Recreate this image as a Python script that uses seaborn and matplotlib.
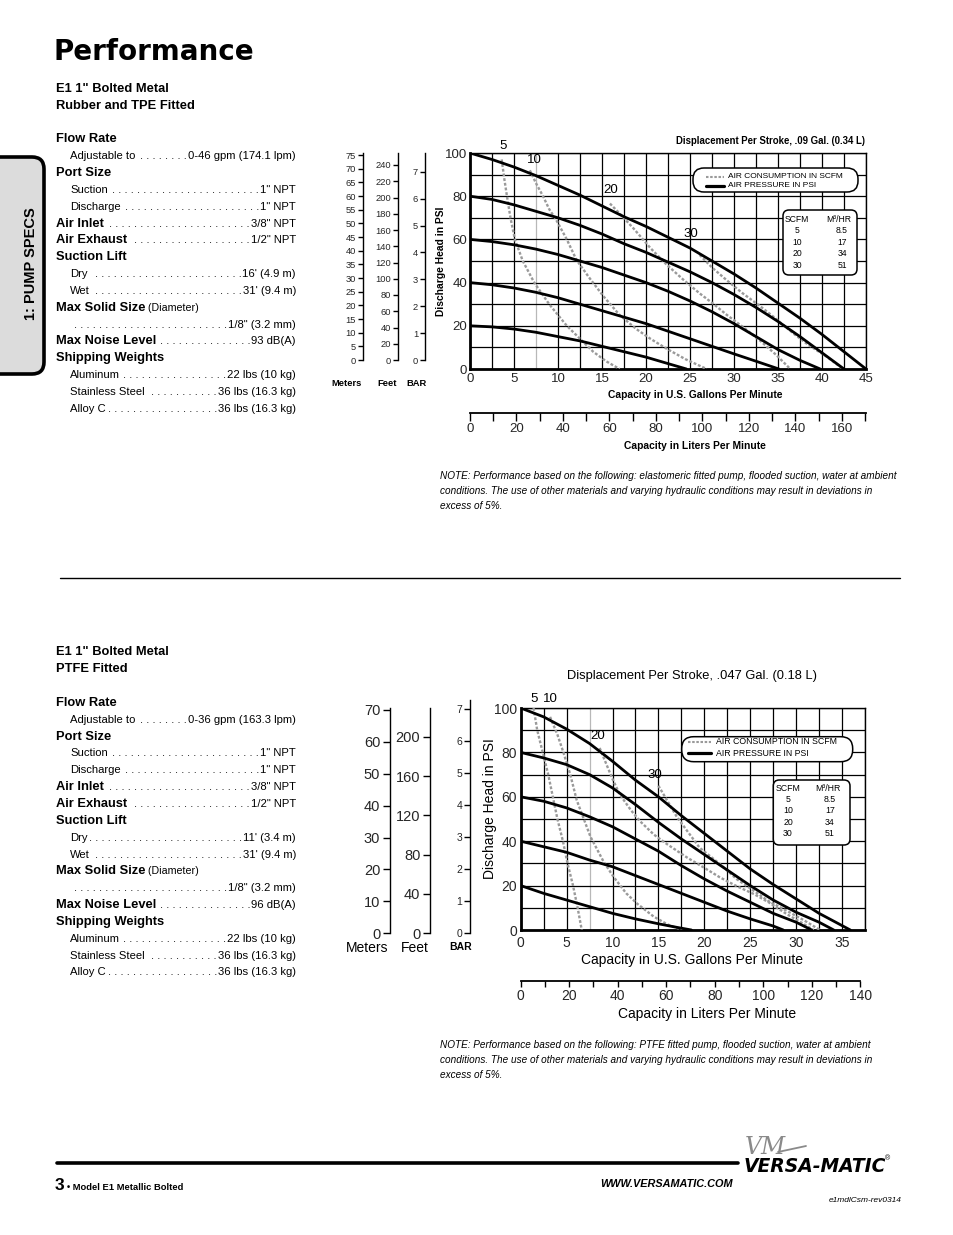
import numpy as np
import pandas as pd
import matplotlib
matplotlib.use("Agg")
import matplotlib.pyplot as plt
import seaborn as sns
from matplotlib.transforms import Affine2D
from matplotlib.patches import FancyBboxPatch
from matplotlib.lines import Line2D
from matplotlib import font_manager

# ------------------------------------------------------------------ data
# Chart 1 : Rubber and TPE fitted
T1_GPM_TICKS = [0, 5, 10, 15, 20, 25, 30, 35, 40, 45]
T1_PSI_TICKS = [0, 20, 40, 60, 80, 100]
T1_LPM_LABELS = [0, 20, 40, 60, 80, 100, 120, 140, 160]
T1_METERS = [0, 5, 10, 15, 20, 25, 30, 35, 40, 45, 50, 55, 60, 65, 70, 75]
T1_FEET = [0, 20, 40, 60, 80, 100, 120, 140, 160, 180, 200, 220, 240]
T1_BAR = [0, 1, 2, 3, 4, 5, 6, 7]

T1_P100_X = [0, 2.5, 5, 7.5, 10, 12.5, 15, 17.5, 20, 22.5, 25, 27.5, 30, 32.5, 35, 37.5, 40, 42.5, 45]
T1_P100_Y = [100, 97, 93.5, 89.5, 85, 80.5, 75.5, 70.5, 66, 61, 56, 50, 44, 37.5, 30.5, 23.5, 16, 8, 0]
T1_P80_X = [0, 2.5, 5, 7.5, 10, 12.5, 15, 17.5, 20, 22.5, 25, 27.5, 30, 32.5, 35, 37.5, 40, 42.5]
T1_P80_Y = [80, 78.5, 76, 73, 70, 66.5, 62.5, 58, 54, 49.5, 45, 40, 34.5, 28.5, 22, 15, 7.5, 0]
T1_P60_X = [0, 2.5, 5, 7.5, 10, 12.5, 15, 17.5, 20, 22.5, 25, 27.5, 30, 32.5, 35, 37.5, 39.8]
T1_P60_Y = [60, 59, 57.5, 55.5, 53, 50, 47, 43.5, 40, 36, 31.5, 26.5, 21, 15, 9, 4, 0]
T1_P40_X = [0, 2.5, 5, 7.5, 10, 12.5, 15, 17.5, 20, 22.5, 25, 27.5, 30, 32.5, 35.1]
T1_P40_Y = [40, 39, 37.5, 35.5, 33, 30, 27, 24, 21, 17.5, 14, 10.5, 7, 3.6, 0]
T1_P20_X = [0, 2.5, 5, 7.5, 10, 12.5, 15, 17.5, 20, 22.5, 24.6]
T1_P20_Y = [20, 19.5, 18.5, 17, 15, 13, 10.5, 8, 5.5, 2.5, 0]

T1_S5_X = [3.6, 3.9, 4.2, 4.6, 5.1, 6.0, 7.3, 9.0, 11, 12.5, 14, 15.5, 17]
T1_S5_Y = [97, 88, 80, 70, 60, 50, 40, 30, 20, 14, 8, 3.5, 0]
T1_S10_X = [6.8, 7.5, 8.3, 9.0, 9.8, 11, 12.1, 13.6, 15.2, 17, 18.9, 20.5, 22.3, 24.5, 26.9]
T1_S10_Y = [92, 86, 80, 74, 69, 60, 50.5, 42, 33.5, 25, 18.5, 14, 9.5, 4.5, 0]
T1_S20_X = [15.9, 17, 18.6, 20.5, 22.3, 24.2, 26.1, 27.7, 29.2, 31, 33, 34.8, 36.4]
T1_S20_Y = [76.6, 72, 65, 56, 48.5, 41.5, 35, 30, 25, 19.5, 13, 6.5, 0]
T1_S30_X = [26.1, 27.5, 29.2, 31, 33, 35, 36.7, 38.5, 40.5, 42.4]
T1_S30_Y = [52.8, 47, 41, 35, 29, 22.5, 16.6, 11, 5.8, 0]

# Chart 2 : PTFE fitted
B_GPM_TICKS = [0, 5, 10, 15, 20, 25, 30, 35]
B_PSI_TICKS = [0, 20, 40, 60, 80, 100]
B_LPM_LABELS = [0, 20, 40, 60, 80, 100, 120, 140]
B_METERS = [0, 10, 20, 30, 40, 50, 60, 70]
B_FEET = [0, 40, 80, 120, 160, 200]
B_BAR = [0, 1, 2, 3, 4, 5, 6, 7]

B_P100_X = [0, 2.5, 5, 7.5, 10, 12.5, 15, 17.5, 20, 22.5, 25, 27.5, 30, 32.5, 35.9]
B_P100_Y = [100, 96, 90.5, 84, 76, 67.5, 60, 51.5, 43.5, 35.5, 27.5, 20.5, 14, 7.5, 0]
B_P80_X = [0, 2.5, 5, 7.5, 10, 12.5, 15, 17.5, 20, 22.5, 25, 27.5, 30, 32.5, 34.1]
B_P80_Y = [80, 77.5, 74.5, 70, 64, 56.5, 48.5, 41, 34, 27, 20, 13.5, 8, 3.5, 0]
B_P60_X = [0, 2.5, 5, 7.5, 10, 12.5, 15, 17.5, 20, 22.5, 25, 27.5, 30, 31.7]
B_P60_Y = [60, 58, 55, 51, 46.5, 41, 35.5, 29, 23, 17.5, 12.5, 7.5, 3.5, 0]
B_P40_X = [0, 2.5, 5, 7.5, 10, 12.5, 15, 17.5, 20, 22.5, 25, 27.5, 28.6]
B_P40_Y = [40, 37.5, 35, 31.5, 28.5, 24.5, 20.5, 16.5, 12.5, 8.5, 5, 1.8, 0]
B_P20_X = [0, 2.5, 5, 7.5, 10, 12.5, 15, 17, 18.6]
B_P20_Y = [20, 16.5, 13.5, 10.5, 7.5, 5, 2.8, 1.2, 0]

B_S5_X = [1.4, 1.8, 2.4, 3.0, 3.5, 4.0, 4.6, 5.1, 5.7, 6.2, 6.65]
B_S5_Y = [100, 90, 80, 70, 60, 50, 40, 30, 20, 10, 0]
B_S10_X = [3.2, 4.0, 4.65, 5.4, 6.1, 7.6, 9.0, 10.1, 11.5, 12.7, 14.5, 16, 17.6]
B_S10_Y = [96, 88, 80, 70, 58.5, 42, 31, 24, 16.5, 11.8, 6, 2.5, 0]
B_S20_X = [8.6, 9.2, 10, 10.8, 12, 13, 14.5, 16, 18.1, 20, 21.7, 23.5, 25.4, 27, 29, 30.5, 31.9]
B_S20_Y = [82, 76, 68, 61, 54, 49, 43, 38.5, 32.7, 28, 23.7, 19.8, 16.2, 12.5, 7.1, 3.5, 0]
B_S30_X = [15, 16, 17, 18.1, 19.5, 21.7, 23.5, 25.4, 27, 29, 30.8, 32.6]
B_S30_Y = [65, 58, 51, 44.8, 37, 29.7, 23, 17.6, 13, 8.6, 4.5, 0]

SCFM_ROWS = ["5", "10", "20", "30"]
M3HR_ROWS = ["8.5", "17", "34", "51"]
CURVE_LABELS = ["5", "10", "20", "30"]

SPEC_TITLE_1 = ['E1 1" Bolted Metal', 'Rubber and TPE Fitted']
SPEC_TITLE_2 = ['E1 1" Bolted Metal', 'PTFE Fitted']
SPEC_KIND = ['h', 'i', 'h', 'i', 'i', 'hv', 'hv', 'h', 'i', 'i', 'hs', 'd', 'hv', 'h', 'i', 'i', 'i']
SPEC_LABEL = ['Flow Rate', 'Adjustable to', 'Port Size', 'Suction', 'Discharge', 'Air Inlet',
              'Air Exhaust', 'Suction Lift', 'Dry', 'Wet', 'Max Solid Size', '', 'Max Noise Level',
              'Shipping Weights', 'Aluminum', 'Stainless Steel', 'Alloy C']
SPEC_VALUE_1 = ['', '0-46 gpm (174.1 lpm)', '', '1" NPT', '1" NPT', '3/8" NPT', '1/2" NPT', '',
                "16' (4.9 m)", "31' (9.4 m)", ' (Diameter)', '1/8" (3.2 mm)', '93 dB(A)', '',
                '22 lbs (10 kg)', '36 lbs (16.3 kg)', '36 lbs (16.3 kg)']
SPEC_VALUE_2 = ['', '0-36 gpm (163.3 lpm)', '', '1" NPT', '1" NPT', '3/8" NPT', '1/2" NPT', '',
                "11' (3.4 m)", "31' (9.4 m)", ' (Diameter)', '1/8" (3.2 mm)', '96 dB(A)', '',
                '22 lbs (10 kg)', '36 lbs (16.3 kg)', '36 lbs (16.3 kg)']

NOTE_1 = ["NOTE: Performance based on the following: elastomeric fitted pump, flooded suction, water at ambient",
          "conditions. The use of other materials and varying hydraulic conditions may result in deviations in",
          "excess of 5%."]
NOTE_2 = ["NOTE: Performance based on the following: PTFE fitted pump, flooded suction, water at ambient",
          "conditions. The use of other materials and varying hydraulic conditions may result in deviations in",
          "excess of 5%."]

# ------------------------------------------------------------------ fonts
sns.set_theme(style="white")
names = {f.name for f in font_manager.fontManager.ttflist}
SANS = "Liberation Sans" if "Liberation Sans" in names else "DejaVu Sans"
HAS_NARROW = "Liberation Sans Narrow" in names
NARROW = "Liberation Sans Narrow" if HAS_NARROW else SANS
NS = 1.0 if HAS_NARROW else 0.84
plt.rcParams["font.family"] = [SANS, "DejaVu Sans"]

W, H = 954, 1235
fig = plt.figure(figsize=(W / 100, H / 100), dpi=100)
fig.patch.set_facecolor("white")
PX = Affine2D().scale(1, -1).translate(0, H).scale(1 / W, 1 / H) + fig.transFigure
GRAY = "#9a9a9a"
DOT = (0, (1.2, 0.8))


def T(x, y, s, size=9, weight="normal", ha="left", va="center", family=None,
      style="normal", rotation=0, color="black", z=10):
    return fig.text(x, y, s, transform=PX, fontsize=size, fontweight=weight, ha=ha, va=va,
                    family=[family or SANS, "DejaVu Sans"], fontstyle=style,
                    rotation=rotation, color=color, zorder=z)


def ax_px(l, t, r, b):
    return fig.add_axes([l / W, 1 - b / H, (r - l) / W, (b - t) / H])


def line_px(xs, ys, **kw):
    fig.add_artist(Line2D(xs, ys, transform=PX, **kw))


def rbox(x0, y0, x1, y1, r, fc="white", ec="black", lw=1.1, z=5):
    fig.add_artist(FancyBboxPatch((x0, y0), x1 - x0, y1 - y0,
                                  boxstyle=f"round,pad=0,rounding_size={r}",
                                  transform=PX, fc=fc, ec=ec, lw=lw, zorder=z))


def main_chart(l, t, r, b, xmax, pcurves, scurves, xticks, yticks, tsize, xpad, ypad):
    ax = ax_px(l, t, r, b)
    ax.set_facecolor("white")
    for xv in np.arange(0, xmax + 0.01, 2.5):
        ax.axvline(xv, color=("#b8b8b8" if abs(xv - 7.5) < 1e-6 else "black"), lw=0.9, zorder=1)
    for yv in range(0, 101, 10):
        ax.axhline(yv, color="black", lw=0.9, zorder=1)
    for xs, ys in scurves:
        sns.lineplot(x=xs, y=ys, ax=ax, color=GRAY, lw=1.7, sort=False, estimator=None,
                     linestyle=DOT, zorder=3)
    for xs, ys in pcurves:
        sns.lineplot(x=xs, y=ys, ax=ax, color="black", lw=2.0, sort=False, estimator=None,
                     zorder=4)
    ax.set_xlim(0, xmax)
    ax.set_ylim(0, 100)
    ax.grid(False)
    for sp in ax.spines.values():
        sp.set_visible(True)
        sp.set_color("black")
        sp.set_linewidth(1.0)
    ax.spines["left"].set_linewidth(2.0)
    ax.spines["bottom"].set_linewidth(2.0)
    ax.set_xticks(xticks)
    ax.set_yticks(yticks)
    ax.tick_params(axis="x", length=0, labelsize=tsize, pad=xpad)
    ax.tick_params(axis="y", length=0, labelsize=tsize, pad=ypad)
    ax.set_xlabel("")
    ax.set_ylabel("")
    return ax


def liters_axis(l, r, y, lmax, bound, labels, size, tlen, pad):
    ax = ax_px(l, y - 1, r, y)
    ax.patch.set_alpha(0)
    ax.set_xlim(0, lmax)
    for s in ["top", "left", "right"]:
        ax.spines[s].set_visible(False)
    ax.spines["bottom"].set_visible(True)
    ax.spines["bottom"].set_color("black")
    ax.spines["bottom"].set_linewidth(1.3)
    ax.spines["bottom"].set_bounds(0, bound)
    ax.set_yticks([])
    ax.set_xticks(labels)
    ax.set_xticks([v for v in range(10, int(bound) + 1, 20)], minor=True)
    ax.tick_params(axis="x", which="both", bottom=True, direction="out", length=tlen,
                   width=1, color="black", labelsize=size, pad=pad)
    ax.grid(False)


def vaxis(x, top, bottom, ymax, ticks, size, family, tlen=4, pad=1.5):
    ax = ax_px(x, top, x + 1, bottom)
    ax.patch.set_alpha(0)
    ax.set_ylim(0, ymax)
    for s in ["top", "bottom", "right"]:
        ax.spines[s].set_visible(False)
    ax.spines["left"].set_visible(True)
    ax.spines["left"].set_color("black")
    ax.spines["left"].set_linewidth(1.0)
    ax.set_xticks([])
    ax.set_yticks(ticks)
    ax.tick_params(axis="y", left=True, direction="out", length=tlen, width=1, color="black",
                   labelsize=size, pad=pad, labelfontfamily=family)
    ax.grid(False)


# ------------------------------------------------------------------ header / tab
T(54, 52, "Performance", size=20, weight="bold", family="DejaVu Sans")
rbox(-20, 157, 44, 374, 12, fc="#dcdcdc", ec="black", lw=2.6, z=1)
T(31, 264, "1: PUMP SPECS", size=(12.5 if HAS_NARROW else 10.5), weight="bold",
  family=NARROW, rotation=90, ha="center")

# ------------------------------------------------------------------ spec columns
renderer = fig.canvas.get_renderer()


def fill_dots(x_left, x_right, y, size):
    gap = x_right - x_left
    n = 1
    best = "."
    while True:
        s = ". " * n + "."
        t = T(0, -200, s, size=size, family=NARROW)
        w = t.get_window_extent(renderer).width
        t.remove()
        if w > gap:
            break
        best = s
        n += 1
    T(x_right, y, best, size=size, family=NARROW, ha="right")


def spec_block(ty, ys, titles, values):
    hs = 9.3
    isz = 9.6 * NS
    T(56, ty[0], titles[0], size=9.3, weight="bold")
    T(56, ty[1], titles[1], size=9.3, weight="bold")
    for kind, lab, val, y in zip(SPEC_KIND, SPEC_LABEL, values, ys):
        if kind == "h":
            T(56, y, lab, size=hs, weight="bold")
            continue
        if kind == "hs":
            t = T(56, y, lab, size=hs, weight="bold")
            x1 = t.get_window_extent(renderer).x1
            T(x1, y, val, size=isz * 0.95, family=NARROW)
            continue
        if kind == "i":
            t = T(70, y, lab, size=isz, family=NARROW)
            x1 = t.get_window_extent(renderer).x1
        elif kind == "hv":
            t = T(56, y, lab, size=hs, weight="bold")
            x1 = t.get_window_extent(renderer).x1
        else:
            x1 = 68
        tv = T(296, y, val, size=isz, family=NARROW, ha="right")
        x0 = tv.get_window_extent(renderer).x0
        fill_dots(x1 + 1.5, x0 - 1.0, y, isz)


Y1 = [139, 156, 173, 190, 207, 224, 240, 257, 274, 291, 308, 325, 341, 358, 375, 392, 409]
Y2 = [703, 720, 737, 753, 770, 787, 804, 821, 838, 855, 871, 888, 905, 922, 939, 956, 972]
spec_block([89, 106], Y1, SPEC_TITLE_1, SPEC_VALUE_1)
spec_block([652, 669], Y2, SPEC_TITLE_2, SPEC_VALUE_2)

# ------------------------------------------------------------------ chart 1
main_chart(470, 153, 866, 369, 45,
           [(T1_P100_X, T1_P100_Y), (T1_P80_X, T1_P80_Y), (T1_P60_X, T1_P60_Y),
            (T1_P40_X, T1_P40_Y), (T1_P20_X, T1_P20_Y)],
           [(T1_S5_X, T1_S5_Y), (T1_S10_X, T1_S10_Y), (T1_S20_X, T1_S20_Y), (T1_S30_X, T1_S30_Y)],
           T1_GPM_TICKS, T1_PSI_TICKS, 9.5, 3, 2)
liters_axis(470, 866, 413, 45 * 3.7854, 170.3, T1_LPM_LABELS, 9.5, 5.5, 1.5)
vaxis(363, 153, 360, 207 / 2.733, T1_METERS, 8 * NS, NARROW, tlen=3.5)
vaxis(398, 153, 360, 207 / 0.8125, T1_FEET, 8 * NS, NARROW, tlen=3.5)
vaxis(425, 153, 360, 207 / 26.9, T1_BAR, 8 * NS, NARROW, tlen=3.5)
T(347, 383, "Meters", size=8 * NS, weight="bold", family=NARROW, ha="center")
T(387, 383, "Feet", size=8 * NS, weight="bold", family=NARROW, ha="center")
T(417, 383, "BAR", size=8 * NS, weight="bold", family=NARROW, ha="center")
T(441, 261, "Discharge Head in PSI", size=8.8 * NS, weight="bold", family=NARROW,
  rotation=90, ha="center")
T(695, 395, "Capacity in U.S. Gallons Per Minute", size=8.8 * NS, weight="bold",
  family=NARROW, ha="center")
T(695, 446, "Capacity in Liters Per Minute", size=8.8 * NS, weight="bold",
  family=NARROW, ha="center")
T(865, 141, "Displacement Per Stroke, .09 Gal. (0.34 L)", size=8.3 * NS, weight="bold",
  family=NARROW, ha="right")
for lab, (x, y) in zip(CURVE_LABELS, [(503, 146), (534, 160), (611, 190), (691, 234)]):
    T(x, y, lab, size=9.5, ha="center")

rbox(693, 168, 858, 192, 11)
line_px([706, 724], [176.5, 176.5], color=GRAY, lw=1.5, linestyle=DOT, zorder=6)
line_px([706, 724], [185.5, 185.5], color="black", lw=2.3, zorder=6)
T(728, 176.5, "AIR CONSUMPTION IN SCFM", size=6)
T(728, 185.5, "AIR PRESSURE IN PSI", size=6)
rbox(783, 210, 857, 275, 6)
T(797, 220, "SCFM", size=6.2, ha="center")
T(839, 220, "M\u00b3/HR", size=6.2, ha="center")
for i, (a, b2) in enumerate(zip(SCFM_ROWS, M3HR_ROWS)):
    yy = 230.5 + i * 11.6
    T(797, yy, a, size=6.2, ha="center")
    T(842, yy, b2, size=6.2, ha="center")

for i, s in enumerate(NOTE_1):
    T(440, 476 + i * 15, s, size=7.2, style="italic")

line_px([60, 900], [578, 578], color="black", lw=1.0)

# ------------------------------------------------------------------ chart 2
main_chart(520.7, 708, 865, 930, 37.5,
           [(B_P100_X, B_P100_Y), (B_P80_X, B_P80_Y), (B_P60_X, B_P60_Y),
            (B_P40_X, B_P40_Y), (B_P20_X, B_P20_Y)],
           [(B_S5_X, B_S5_Y), (B_S10_X, B_S10_Y), (B_S20_X, B_S20_Y), (B_S30_X, B_S30_Y)],
           B_GPM_TICKS, B_PSI_TICKS, 10, 4, 2.5)
liters_axis(520.7, 865, 980.7, 37.5 * 3.7854, 140, B_LPM_LABELS, 10, 4, 2)
vaxis(390, 708.3, 933.3, 225 / 3.19, B_METERS, 10.5, SANS, tlen=5, pad=2)
vaxis(430, 708.3, 933.3, 225 / 0.983, B_FEET, 10.5, SANS, tlen=5, pad=2)
vaxis(470, 700, 933.3, 233.3 / 32.1, B_BAR, 7.5, SANS, tlen=4, pad=1.5)
T(367, 948, "Meters", size=10, ha="center")
T(415, 948, "Feet", size=10, ha="center")
T(461, 947, "BAR", size=7.5, weight="bold", ha="center")
T(490, 809, "Discharge Head in PSI", size=10, rotation=90, ha="center")
T(692, 960, "Capacity in U.S. Gallons Per Minute", size=10, ha="center")
T(707, 1014, "Capacity in Liters Per Minute", size=10, ha="center")
T(692, 676, "Displacement Per Stroke, .047 Gal. (0.18 L)", size=9.3, ha="center")
for lab, (x, y) in zip(CURVE_LABELS, [(534, 699), (550, 699), (598, 736), (655, 775)]):
    T(x, y, lab, size=9.5, ha="center")

rbox(681.7, 736.7, 852.7, 761.7, 12)
line_px([688, 711], [742, 742], color=GRAY, lw=1.5, linestyle=DOT, zorder=6)
line_px([688, 711], [753, 753], color="black", lw=2.3, zorder=6)
T(716, 742, "AIR CONSUMPTION IN SCFM", size=6.3)
T(716, 753, "AIR PRESSURE IN PSI", size=6.3)
rbox(773.3, 780, 850, 845, 6)
T(788, 788.5, "SCFM", size=6.3, ha="center")
T(828, 788.5, "M\u00b3/HR", size=6.3, ha="center")
for i, (a, b2) in enumerate(zip(SCFM_ROWS, M3HR_ROWS)):
    yy = 799 + i * 11.6
    T(788, yy, a, size=6.3, ha="center")
    T(830, yy, b2, size=6.3, ha="center")

for i, s in enumerate(NOTE_2):
    T(440, 1045 + i * 15, s, size=7.2, style="italic")

# ------------------------------------------------------------------ footer
line_px([57, 738], [1163, 1163], color="black", lw=2.6)
T(55, 1186, "3", size=12.5, weight="bold", family=NARROW)
T(67.5, 1187, "\u2022 Model E1 Metallic Bolted", size=8 * NS, weight="bold", family=NARROW)
T(733, 1184, "WWW.VERSAMATIC.COM", size=7.8, weight="bold", style="italic", ha="right")
T(745, 1147, "VM", size=17, style="italic", color="#8a8a8a", family="DejaVu Serif")
line_px([778, 806], [1152, 1146], color="#8a8a8a", lw=1.3)
T(744, 1166, "VERSA-MATIC", size=13.5, weight="heavy", style="italic", family="DejaVu Sans")
T(885, 1159, "\u00ae", size=5)
T(902, 1200, "e1mdlCsm-rev0314", size=7.2 * NS, style="italic", family=NARROW, ha="right")

fig.savefig("out.png", dpi=100, facecolor="white")
